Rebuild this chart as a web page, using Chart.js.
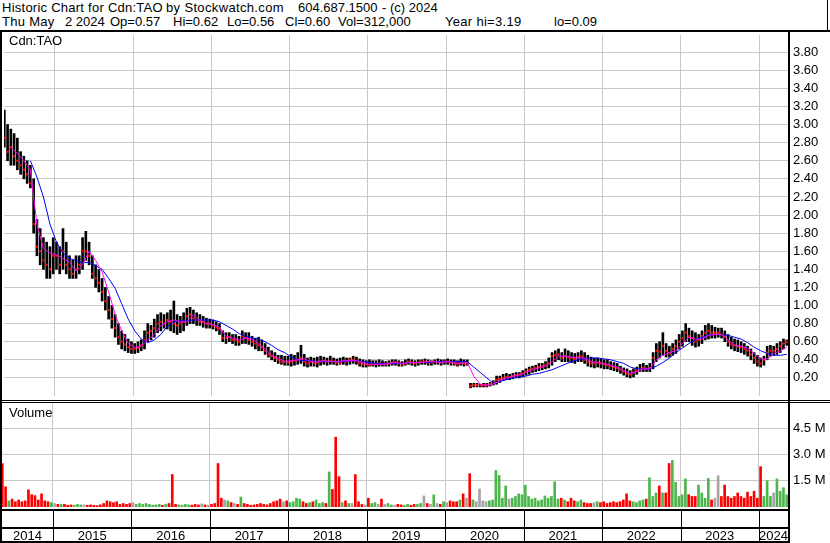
<!DOCTYPE html>
<html>
<head>
<meta charset="utf-8">
<title>Historic Chart for Cdn:TAO</title>
<script src="https://cdn.jsdelivr.net/npm/chart.js@4.4.1/dist/chart.umd.min.js"></script>
<style>
  body { margin: 0; background: #fff; }
  #wrap { position: relative; width: 830px; height: 543px; overflow: hidden; font-family: "Liberation Sans", Arial, sans-serif; color: #000; }
  .txt { position: absolute; font-size: 13px; line-height: 14px; white-space: pre; }
  .ln { position: absolute; background: #000; }
  canvas { position: absolute; left: 0; }
</style>
</head>
<body>
<div id="wrap">
  <canvas id="priceChart" width="830" height="369" style="top:31px"></canvas>
  <canvas id="volumeChart" width="830" height="140" style="top:403px"></canvas>

  <div class="txt" style="left:2px;top:1px;letter-spacing:0.25px">Historic Chart for Cdn:TAO</div>
  <div class="txt" style="left:166px;top:1px;letter-spacing:0.35px">by Stockwatch.com</div>
  <div class="txt" style="left:298px;top:1px">604.687.1500</div>
  <div class="txt" style="left:382px;top:1px">- (c) 2024</div>
  <div class="txt" style="left:2px;top:15px;letter-spacing:0.3px">Thu May</div>
  <div class="txt" style="left:65px;top:15px">2 2024</div>
  <div class="txt" style="left:110px;top:15px">Op=0.57</div>
  <div class="txt" style="left:173px;top:15px">Hi=0.62</div>
  <div class="txt" style="left:227px;top:15px">Lo=0.56</div>
  <div class="txt" style="left:285px;top:15px">Cl=0.60</div>
  <div class="txt" style="left:338px;top:15px">Vol=312,000</div>
  <div class="txt" style="left:445px;top:15px;letter-spacing:0.3px">Year hi=3.19</div>
  <div class="txt" style="left:554px;top:15px">lo=0.09</div>
  <div class="txt" style="left:9px;top:34px">Cdn:TAO</div>
  <div class="txt" style="left:9px;top:406px">Volume</div>

  <!-- marco -->
  <div class="ln" style="left:827px;top:0;width:1px;height:31px"></div>
  <div class="ln" style="left:0;top:30px;width:830px;height:2px"></div>
  <div class="ln" style="left:0;top:30px;width:2px;height:513px"></div>
  <div class="ln" style="left:788px;top:30px;width:2px;height:513px"></div>
  <div class="ln" style="left:0;top:400px;width:830px;height:1px"></div>
  <div class="ln" style="left:0;top:402px;width:830px;height:1px"></div>
  <div class="ln" style="left:0;top:509px;width:790px;height:2px"></div>
  <div class="ln" style="left:0;top:527px;width:790px;height:2px"></div>
  <div class="ln" style="left:0;top:541px;width:790px;height:2px"></div>
</div>

<script>
// Periodo visible y etiquetas
const yearStart = 2014.35;
const yearEnd = 2024.37;
const yearLabels = ["2014", "2015", "2016", "2017", "2018", "2019", "2020", "2021", "2022", "2023", "2024"];
const priceTicks = [0.2, 0.4, 0.6, 0.8, 1.0, 1.2, 1.4, 1.6, 1.8, 2.0, 2.2, 2.4, 2.6, 2.8, 3.0, 3.2, 3.4, 3.6, 3.8];
const volumeTicks = [1.5, 3.0, 4.5];

// Barras cada media quincena (2 por mes) desde mayo 2014
const firstPeriod = 2014.354;
const barsPerYear = 24;
const maPerYear = 12;

const highs = [
  3.16, 3.0, 2.95, 2.9, 2.85, 2.7, 2.65, 2.6, 2.55, 2.4,
  1.95, 1.85, 1.75, 1.7, 1.65, 1.75, 1.7, 1.65, 1.85, 1.7,
  1.55, 1.5, 1.55, 1.55, 1.75, 1.82, 1.7, 1.55, 1.45, 1.4,
  1.3, 1.2, 1.1, 1.0, 0.9, 0.8, 0.72, 0.68, 0.63, 0.6,
  0.58, 0.6, 0.62, 0.72, 0.8, 0.78, 0.85, 0.9, 0.92, 0.9,
  0.92, 0.95, 1.05, 0.9, 0.88, 0.92, 0.97, 0.98, 0.95, 0.92,
  0.9, 0.88, 0.86, 0.85, 0.84, 0.82, 0.8, 0.72, 0.7, 0.7,
  0.68, 0.68, 0.66, 0.72, 0.7, 0.7, 0.66, 0.64, 0.65, 0.62,
  0.58, 0.54, 0.5, 0.48, 0.45, 0.45, 0.44, 0.44, 0.46, 0.45,
  0.48, 0.56, 0.46, 0.42, 0.43, 0.42, 0.43, 0.44, 0.43, 0.42,
  0.44, 0.42, 0.41, 0.42, 0.43, 0.42, 0.42, 0.44, 0.43, 0.41,
  0.4, 0.39, 0.4, 0.39, 0.39, 0.4, 0.39, 0.38, 0.39, 0.4,
  0.4, 0.39, 0.38, 0.4, 0.41, 0.4, 0.39, 0.4, 0.4, 0.41,
  0.4, 0.39, 0.4, 0.41, 0.4, 0.4, 0.41, 0.4, 0.4, 0.39,
  0.41, 0.4, 0.4, 0.14, 0.14, 0.14, 0.13, 0.14, 0.14, 0.15,
  0.17, 0.22, 0.22, 0.24, 0.25, 0.24, 0.25, 0.26, 0.26, 0.28,
  0.3, 0.32, 0.33, 0.34, 0.36, 0.36, 0.38, 0.42, 0.48, 0.5,
  0.52, 0.48, 0.52, 0.5, 0.48, 0.47, 0.48, 0.5, 0.48, 0.45,
  0.43, 0.42, 0.42, 0.41, 0.4, 0.4, 0.38, 0.37, 0.36, 0.33,
  0.31, 0.3, 0.28, 0.3, 0.32, 0.35, 0.36, 0.34, 0.36, 0.48,
  0.58, 0.6, 0.7, 0.58, 0.55, 0.58, 0.62, 0.68, 0.72, 0.8,
  0.75, 0.72, 0.7, 0.68, 0.72, 0.78, 0.8, 0.78, 0.76, 0.75,
  0.75, 0.72, 0.68, 0.65, 0.63, 0.62, 0.6, 0.58, 0.55, 0.52,
  0.48, 0.45, 0.42, 0.44, 0.55, 0.56, 0.55, 0.58, 0.6, 0.63,
  0.62
];

const lows = [
  2.75, 2.6, 2.55, 2.55, 2.5, 2.45, 2.4, 2.35, 2.3, 1.8,
  1.55, 1.45, 1.4, 1.3, 1.3, 1.35, 1.4, 1.35, 1.4, 1.35,
  1.3, 1.3, 1.3, 1.35, 1.4, 1.5, 1.45, 1.3, 1.2, 1.15,
  1.05, 0.95, 0.85, 0.75, 0.65, 0.57, 0.52, 0.5, 0.48, 0.47,
  0.47, 0.48, 0.5, 0.52, 0.6, 0.62, 0.65, 0.7, 0.72, 0.75,
  0.74, 0.72, 0.7, 0.68, 0.7, 0.72, 0.78, 0.8, 0.8, 0.78,
  0.78, 0.76, 0.75, 0.75, 0.74, 0.72, 0.68, 0.6, 0.58, 0.6,
  0.58, 0.56, 0.56, 0.58, 0.58, 0.57, 0.55, 0.52, 0.5, 0.5,
  0.46, 0.43, 0.4, 0.38, 0.36, 0.35, 0.34, 0.34, 0.33, 0.34,
  0.35, 0.36, 0.33, 0.32, 0.33, 0.33, 0.32, 0.34, 0.35, 0.34,
  0.35, 0.35, 0.34, 0.35, 0.35, 0.34, 0.35, 0.36, 0.35, 0.33,
  0.32, 0.32, 0.33, 0.33, 0.32, 0.33, 0.33, 0.33, 0.33, 0.34,
  0.34, 0.33, 0.33, 0.34, 0.35, 0.34, 0.33, 0.34, 0.35, 0.35,
  0.34, 0.34, 0.35, 0.35, 0.34, 0.35, 0.35, 0.34, 0.34, 0.33,
  0.34, 0.33, 0.34, 0.09, 0.1, 0.1, 0.1, 0.1, 0.1, 0.11,
  0.12, 0.13, 0.15, 0.17, 0.18, 0.18, 0.19, 0.2, 0.2, 0.21,
  0.23, 0.24, 0.26, 0.27, 0.28, 0.29, 0.3, 0.31, 0.34, 0.38,
  0.4, 0.38, 0.38, 0.38, 0.37, 0.36, 0.38, 0.38, 0.36, 0.33,
  0.32, 0.31, 0.32, 0.31, 0.3, 0.3, 0.29, 0.28, 0.27, 0.25,
  0.23, 0.21, 0.2, 0.21, 0.24, 0.27, 0.27, 0.27, 0.27, 0.3,
  0.38, 0.42, 0.45, 0.43, 0.43, 0.45, 0.47, 0.52, 0.55, 0.6,
  0.6, 0.56, 0.54, 0.55, 0.58, 0.62, 0.63, 0.64, 0.64, 0.65,
  0.64, 0.6, 0.55, 0.52, 0.5, 0.49, 0.48, 0.46, 0.44, 0.4,
  0.36, 0.33, 0.32, 0.34, 0.4, 0.44, 0.45, 0.46, 0.48, 0.52,
  0.56
];

const closes = [
  2.85, 2.7, 2.75, 2.65, 2.6, 2.55, 2.5, 2.45, 2.35, 1.9,
  1.65, 1.6, 1.5, 1.45, 1.4, 1.55, 1.55, 1.45, 1.6, 1.45,
  1.4, 1.35, 1.4, 1.45, 1.6, 1.6, 1.55, 1.35, 1.3, 1.25,
  1.15, 1.05, 0.95, 0.85, 0.75, 0.65, 0.6, 0.57, 0.54, 0.52,
  0.52, 0.53, 0.56, 0.62, 0.7, 0.72, 0.75, 0.8, 0.82, 0.8,
  0.84, 0.82, 0.8, 0.78, 0.8, 0.82, 0.88, 0.9, 0.86, 0.84,
  0.82, 0.82, 0.8, 0.8, 0.78, 0.76, 0.74, 0.64, 0.64, 0.65,
  0.62, 0.62, 0.6, 0.66, 0.64, 0.62, 0.6, 0.58, 0.56, 0.54,
  0.5, 0.46, 0.44, 0.42, 0.4, 0.38, 0.38, 0.37, 0.38, 0.39,
  0.4, 0.42, 0.38, 0.36, 0.38, 0.36, 0.37, 0.38, 0.39, 0.38,
  0.39, 0.38, 0.37, 0.36, 0.39, 0.38, 0.4, 0.4, 0.39, 0.36,
  0.35, 0.35, 0.34, 0.35, 0.36, 0.36, 0.35, 0.35, 0.36, 0.37,
  0.37, 0.36, 0.35, 0.36, 0.38, 0.37, 0.36, 0.37, 0.38, 0.38,
  0.37, 0.37, 0.38, 0.38, 0.37, 0.38, 0.38, 0.37, 0.36, 0.35,
  0.37, 0.36, 0.36, 0.11, 0.12, 0.12, 0.12, 0.12, 0.12, 0.13,
  0.15, 0.18, 0.19, 0.2, 0.21, 0.21, 0.22, 0.23, 0.24, 0.25,
  0.27, 0.29, 0.3, 0.31, 0.32, 0.33, 0.34, 0.36, 0.44, 0.45,
  0.46, 0.42, 0.44, 0.43, 0.42, 0.41, 0.43, 0.44, 0.4, 0.38,
  0.36, 0.36, 0.37, 0.36, 0.35, 0.34, 0.33, 0.32, 0.31, 0.29,
  0.27, 0.25, 0.24, 0.26, 0.28, 0.3, 0.31, 0.3, 0.31, 0.42,
  0.5, 0.49, 0.55, 0.5, 0.47, 0.52, 0.55, 0.6, 0.64, 0.7,
  0.66, 0.64, 0.6, 0.62, 0.66, 0.7, 0.72, 0.7, 0.7, 0.7,
  0.68, 0.66, 0.6, 0.57, 0.56, 0.55, 0.54, 0.52, 0.5, 0.46,
  0.42, 0.38, 0.36, 0.4, 0.48, 0.5, 0.5, 0.52, 0.55, 0.58,
  0.6
];

// Volumen en millones de acciones
const volumes = [
  2.48, 1.15, 0.35, 0.45, 0.3, 0.4, 0.3, 0.35, 0.98, 0.7,
  0.65, 0.4, 0.75, 0.35, 0.3, 0.25, 0.2, 0.15, 0.15, 0.15,
  0.1, 0.12, 0.1, 0.15, 0.12, 0.12, 0.1, 0.12, 0.1, 0.08,
  0.12, 0.2, 0.35, 0.3, 0.25, 0.3, 0.15, 0.2, 0.15, 0.2,
  0.25, 0.15, 0.2, 0.15, 0.2, 0.15, 0.1, 0.12, 0.15, 0.1,
  0.15, 0.2, 1.85, 0.15, 0.12, 0.1, 0.15, 0.12, 0.1, 0.15,
  0.12, 0.18, 0.12, 0.1, 0.15, 0.2, 2.48, 0.5, 0.4, 0.35,
  0.25, 0.2, 0.15, 0.57, 0.2, 0.15, 0.1, 0.12, 0.15, 0.2,
  0.15, 0.12, 0.2, 0.3, 0.35, 0.45, 0.3, 0.35, 0.25, 0.3,
  0.5, 0.45, 0.3, 0.2, 0.25, 0.3, 0.4, 0.2, 0.25, 0.2,
  2.0, 1.0, 3.98, 1.73, 0.25, 0.35, 0.2, 0.2, 1.85, 0.3,
  0.15, 0.12, 0.5, 0.2, 0.25, 0.15, 0.45, 0.15, 0.2, 0.12,
  0.1, 0.15, 0.12, 0.1, 0.15, 0.1, 0.15, 0.15, 0.2, 0.63,
  0.2, 0.15, 0.69, 0.2, 0.15, 0.3, 0.25, 0.35, 0.3, 0.3,
  0.4, 0.75, 0.5, 1.9, 0.4, 0.3, 1.03, 0.35, 0.3, 0.35,
  0.4, 2.08, 1.8, 0.5, 1.2, 0.45, 0.5, 0.6, 0.75, 0.7,
  1.25, 0.6, 0.45, 0.5, 0.35, 0.4, 0.63, 0.5, 0.6, 1.44,
  0.45, 0.5, 0.4, 0.3, 0.5, 0.35, 0.3, 0.4, 0.25, 0.2,
  0.2, 0.25, 0.3, 0.25, 0.3, 0.2, 0.25, 0.3, 0.25, 0.3,
  0.4, 0.75, 0.35, 0.3, 0.25, 0.35, 0.4, 0.45, 1.67, 0.6,
  0.8, 1.2, 0.8, 0.8, 2.48, 2.65, 1.4, 0.6, 0.7, 1.6,
  0.7, 0.6, 0.6, 1.25, 0.8, 0.5, 1.63, 0.4, 0.5, 1.78,
  0.6, 1.25, 0.6, 0.5, 0.6, 0.8, 0.6, 0.5, 0.85, 0.6,
  0.9, 0.5, 2.3, 0.6, 1.5, 0.6, 0.8, 1.6, 0.9, 1.1,
  0.7
];

// Medias moviles, un valor por mes
const maShort = [
  null, 2.75, 2.68, 2.6, 2.5, 1.9, 1.63, 1.58, 1.56, 1.52, 1.48,
  1.38, 1.45, 1.6, 1.5, 1.37, 1.15, 0.9, 0.72, 0.58, 0.54,
  0.55, 0.62, 0.68, 0.78, 0.82, 0.84, 0.82, 0.82, 0.9, 0.84,
  0.8, 0.79, 0.76, 0.66, 0.64, 0.62, 0.64, 0.63, 0.58, 0.52,
  0.45, 0.42, 0.38, 0.39, 0.4, 0.41, 0.38, 0.38, 0.39, 0.38,
  0.38, 0.39, 0.39, 0.39, 0.37, 0.35, 0.35, 0.35, 0.36, 0.37,
  0.36, 0.37, 0.37, 0.37, 0.38, 0.38, 0.37, 0.38, 0.37, 0.36,
  0.37, 0.22, 0.13, 0.12, 0.13, 0.17, 0.2, 0.22, 0.23, 0.26,
  0.29, 0.31, 0.33, 0.38, 0.44, 0.44, 0.43, 0.42, 0.42, 0.38,
  0.37, 0.36, 0.34, 0.32, 0.28, 0.25, 0.27, 0.3, 0.3, 0.4,
  0.45, 0.48, 0.5, 0.58, 0.65, 0.63, 0.63, 0.67, 0.68, 0.68,
  0.62, 0.56, 0.55, 0.53, 0.47, 0.41, 0.41, 0.47, 0.5, 0.54
];

const maLong = [
  null, null, null, null, 2.6, 2.42, 2.2, 1.9, 1.7, 1.58, 1.52,
  1.5, 1.47, 1.48, 1.44, 1.4, 1.3, 1.19, 1.02, 0.85, 0.72,
  0.63, 0.59, 0.62, 0.68, 0.77, 0.82, 0.83, 0.83, 0.84, 0.84,
  0.84, 0.84, 0.82, 0.78, 0.74, 0.69, 0.66, 0.64, 0.63, 0.6,
  0.56, 0.51, 0.48, 0.43, 0.4, 0.39, 0.39, 0.38, 0.38, 0.38,
  0.38, 0.38, 0.39, 0.39, 0.38, 0.37, 0.36, 0.36, 0.36, 0.36,
  0.36, 0.37, 0.37, 0.37, 0.37, 0.38, 0.38, 0.38, 0.38, 0.38,
  0.38, 0.32, 0.26, 0.2, 0.14, 0.16, 0.18, 0.2, 0.21, 0.22,
  0.24, 0.25, 0.27, 0.29, 0.32, 0.35, 0.38, 0.4, 0.41, 0.42,
  0.42, 0.41, 0.4, 0.38, 0.36, 0.32, 0.3, 0.3, 0.3, 0.33,
  0.37, 0.42, 0.48, 0.53, 0.58, 0.62, 0.65, 0.67, 0.68, 0.68,
  0.67, 0.65, 0.63, 0.59, 0.54, 0.5, 0.47, 0.45, 0.45, 0.46
];

const barTime = i => firstPeriod + i / barsPerYear;
const maTime = i => firstPeriod + i / maPerYear;

const FONT = { family: "'Liberation Sans', Arial, sans-serif", size: 13 };
const GRID = "#c8c8c8";

function volColor(i) {
    if (i === 0 || closes[i] < closes[i - 1]) return "#ff0000";
    if (closes[i] > closes[i - 1]) return "#4cb64c";
    return "#a4a4a4";
}

function xAxis() {
    return {
        type: "linear",
        min: yearStart,
        max: yearEnd,
        offset: false,
        grid: { color: GRID, drawTicks: false, offset: false },
        border: { display: false },
        ticks: { display: false },
        afterBuildTicks: s => { s.ticks = yearLabels.slice(1).map(y => ({ value: +y })); },
        afterFit: s => { s.height = 0; }
    };
}

function yAxis(min, max, ticks, fmt) {
    return {
        position: "right",
        min: min,
        max: max,
        grid: { color: GRID, drawTicks: false },
        border: { display: false },
        ticks: { font: FONT, color: "#000", padding: 5, callback: fmt },
        afterBuildTicks: s => { s.ticks = ticks.map(v => ({ value: v })); },
        // ancho fijo y sin margen extra para las etiquetas
        afterFit: s => { s.width = 42; s.paddingTop = 0; s.paddingBottom = 0; }
    };
}

// Franja de años bajo el volumen
const yearBand = {
    id: "yearBand",
    afterDraw(chart) {
        const ctx = chart.ctx;
        const xs = chart.scales.x;
        const area = chart.chartArea;
        ctx.save();
        ctx.fillStyle = "#000";
        yearLabels.slice(1).forEach(y => {
            const px = Math.round(xs.getPixelForValue(+y));
            ctx.fillRect(px, 108, 1, 30);
        });
        ctx.font = "13px 'Liberation Sans', Arial, sans-serif";
        ctx.textAlign = "center";
        ctx.textBaseline = "middle";
        yearLabels.forEach(y => {
            const a = Math.max(area.left, xs.getPixelForValue(+y));
            const b = Math.min(area.right, xs.getPixelForValue(+y + 1));
            ctx.fillText(y, (a + b) / 2, 133);
        });
        ctx.restore();
    }
};

document.addEventListener("DOMContentLoaded", () => {
    const base = {
        responsive: false,
        animation: false,
        events: [],
        plugins: { legend: { display: false }, tooltip: { enabled: false } }
    };

    new Chart(document.getElementById("priceChart"), {
        type: "bar",
        data: {
            datasets: [
                {
                    type: "line",
                    data: maShort.map((v, i) => ({ x: maTime(i), y: v })),
                    borderColor: "#ff00ff",
                    borderWidth: 1,
                    pointRadius: 0,
                    order: 0
                },
                {
                    type: "line",
                    data: maLong.map((v, i) => ({ x: maTime(i), y: v })),
                    borderColor: "#0000ff",
                    borderWidth: 1,
                    pointRadius: 0,
                    order: 0
                },
                {
                    type: "scatter",
                    data: closes.map((v, i) => ({ x: barTime(i), y: v })),
                    pointStyle: "rect",
                    pointRadius: 1.5,
                    backgroundColor: "#ff0000",
                    borderWidth: 0,
                    order: 1
                },
                {
                    type: "bar",
                    data: highs.map((h, i) => ({ x: barTime(i), y: [lows[i], h] })),
                    backgroundColor: "#000",
                    barThickness: 2,
                    order: 2
                }
            ]
        },
        options: {
            ...base,
            layout: { padding: { left: 2, top: 0, right: 0, bottom: 0 } },
            scales: {
                x: xAxis(),
                y: yAxis(0, 3.99, priceTicks, v => v.toFixed(2))
            }
        }
    });

    new Chart(document.getElementById("volumeChart"), {
        type: "bar",
        data: {
            datasets: [{
                data: volumes.map((v, i) => ({ x: barTime(i), y: v })),
                backgroundColor: volumes.map((v, i) => volColor(i)),
                barThickness: 2
            }]
        },
        options: {
            ...base,
            layout: { padding: { left: 2, top: 0, right: 0, bottom: 36 } },
            scales: {
                x: xAxis(),
                y: yAxis(0, 5.93, volumeTicks, v => v.toFixed(1) + " M")
            }
        },
        plugins: [yearBand]
    });
});
</script>
</body>
</html>
